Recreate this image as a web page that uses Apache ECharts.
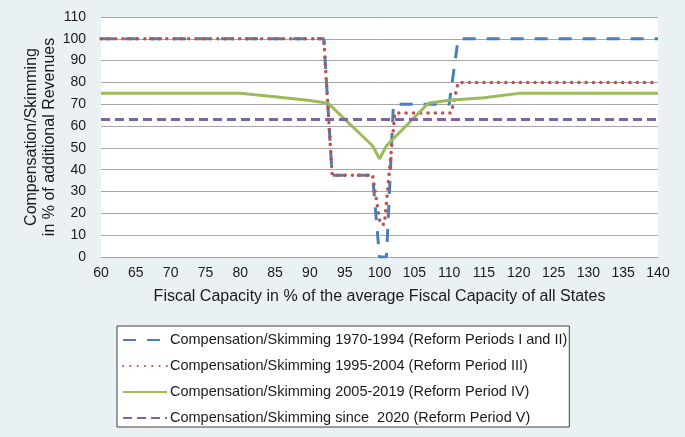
<!DOCTYPE html>
<html>
<head>
<meta charset="utf-8">
<script src="https://cdn.jsdelivr.net/npm/echarts@6/dist/echarts.min.js"></script>
<style>
html,body{margin:0;padding:0;background:#eaf1f4;}
#c{width:685px;height:437px;}
</style>
</head>
<body>
<div id="c"></div>
<script>
var xTicks = [60,65,70,75,80,85,90,95,100,105,110,115,120,125,130,135,140];
var yTicks = [0,10,20,30,40,50,60,70,80,90,100,110];
var seriesNames = [
  'Compensation/Skimming 1970-1994 (Reform Periods I and II)',
  'Compensation/Skimming 1995-2004 (Reform Period III)',
  'Compensation/Skimming 2005-2019 (Reform Period IV)',
  'Compensation/Skimming since  2020 (Reform Period V)'
];
var period12X = [60,92,93.2,99,100,101,102,110,111.3,140];
var period12Y = [100,100,37.5,37.5,0,0,70,70,100,100];
var period3X = [60,92,93.2,99,100.1,100.7,102.2,110.3,111.3,140];
var period3Y = [100,100,37.5,37.5,15,15,66,66,80,80];
var period4X = [60,80,85,90,92.6,99,100,101,107,110,115,120,140];
var period4Y = [75,75,73.4,71.7,70.5,51,45,51,70.5,71.8,73,75,75];
var period5X = [60,140];
var period5Y = [63,63];

function pairs(xs, ys){ return xs.map(function(x,i){ return [x, ys[i]]; }); }

var chart = echarts.init(document.getElementById('c'), null, {renderer:'canvas'});
var font = 'Liberation Sans, Arial, sans-serif';
chart.setOption({
  backgroundColor: '#eaf1f4',
  animation: false,
  textStyle: {fontFamily: font},
  grid: {left: 101, right: 27, top: 17, bottom: 180, show: true, backgroundColor: '#ffffff', borderWidth: 0, containLabel: false},
  xAxis: {
    type: 'value', min: xTicks[0], max: xTicks[xTicks.length-1], interval: 5,
    name: 'Fiscal Capacity in % of the average Fiscal Capacity of all States',
    nameLocation: 'middle', nameGap: 32,
    nameTextStyle: {fontSize: 16, color: '#1a1a1a', fontFamily: font},
    axisLine: {show: true, lineStyle: {color: '#a6a6a6', width: 1}},
    axisTick: {show: false},
    axisLabel: {fontSize: 14, color: '#1a1a1a', margin: 9, fontFamily: font},
    splitLine: {show: false}
  },
  yAxis: {
    type: 'value', min: yTicks[0], max: yTicks[yTicks.length-1], interval: 10,
    name: 'Compensation/Skimming\nin % of additional Revenues',
    nameLocation: 'middle', nameGap: 42, nameMoveOverlap: false,
    nameTextStyle: {fontSize: 16, color: '#1a1a1a', lineHeight: 18, fontFamily: font},
    axisLine: {show: false},
    axisTick: {show: false},
    axisLabel: {fontSize: 14, color: '#1a1a1a', margin: 15, fontFamily: font},
    splitLine: {show: true, lineStyle: {color: '#a6a6a6', width: 1}}
  },
  legend: {
    orient: 'vertical', left: 117, top: 326,
    padding: [6, 2, 1, 5],
    itemWidth: 44, itemHeight: 14, itemGap: 10,
    itemStyle: {opacity: 0},
    backgroundColor: '#ffffff', borderColor: '#404040', borderWidth: 1, borderRadius: 0,
    textStyle: {fontSize: 14.5, lineHeight: 16, color: '#1a1a1a', fontFamily: font, padding: [0,0,0,-2]},
    data: seriesNames
  },
  series: [
    {name: seriesNames[0], type: 'line', data: pairs(period12X, period12Y), symbol: 'none',
     lineStyle: {color: '#4a7ebb', width: 3, type: [13, 11]}, itemStyle: {color: '#4a7ebb'}},
    {name: seriesNames[1], type: 'line', data: pairs(period3X, period3Y), symbol: 'none',
     lineStyle: {color: '#c0504d', width: 3.5, type: [0.1, 7.2], cap: 'round'}, itemStyle: {color: '#c0504d'}},
    {name: seriesNames[2], type: 'line', data: pairs(period4X, period4Y), symbol: 'none',
     lineStyle: {color: '#9bbb59', width: 3}, itemStyle: {color: '#9bbb59'}},
    {name: seriesNames[3], type: 'line', data: pairs(period5X, period5Y), symbol: 'none',
     lineStyle: {color: '#8064a2', width: 3, type: [9, 5]}, itemStyle: {color: '#8064a2'}}
  ]
});
</script>
</body>
</html>
